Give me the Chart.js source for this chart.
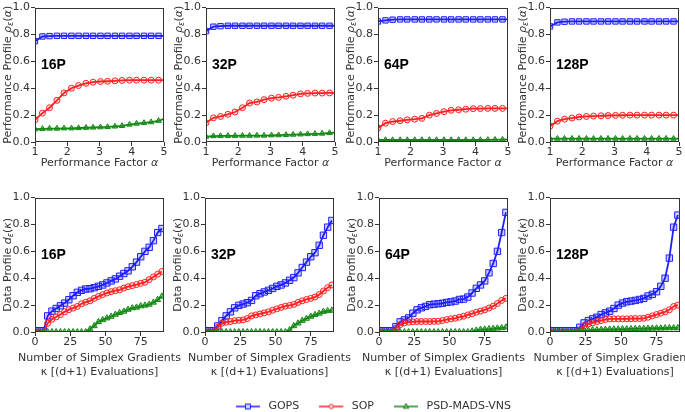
<!DOCTYPE html>
<html>
<head>
<meta charset="utf-8">
<script src="https://cdn.jsdelivr.net/npm/chart.js@4"></script>
<style>
  html, body { margin: 0; padding: 0; background: #fff; overflow: hidden; }
  #wrap { position: relative; width: 685px; height: 412px; overflow: hidden; }
  #wrap canvas { position: absolute; }
</style>
</head>
<body>
<div id="wrap"></div>
<script>
// Eixo x das curvas de desempenho (fator alpha)
const alpha = [1.0, 1.23, 1.45, 1.68, 1.9, 2.13, 2.35, 2.58, 2.8, 3.03, 3.25, 3.48, 3.7, 3.93, 4.15, 4.38, 4.6, 4.83, 5.0];

// Eixo x dos perfis de dados (gradientes simplex)
const kappa = [0, 3, 6, 9, 12, 15, 18, 21, 24, 27, 30, 33, 36, 39, 42, 45, 48, 51, 54, 57, 60, 63, 66, 69, 72, 75, 78, 81, 84, 87, 90];

const seriesNames = ["GOPS", "SOP", "PSD-MADS-VNS"];
const panelLabels = ["16P", "32P", "64P", "128P"];
const alphaTicks = [1, 2, 3, 4, 5];
const kappaTicks = [0, 25, 50, 75];
const profileTicks = [0, 0.2, 0.4, 0.6, 0.8, 1.0];

// Perfis de desempenho
const perfGops16 = [0.75, 0.785, 0.788, 0.79, 0.79, 0.79, 0.79, 0.79, 0.79, 0.79, 0.79, 0.79, 0.79, 0.79, 0.79, 0.79, 0.79, 0.79, 0.79];
const perfSop16 = [0.165, 0.215, 0.255, 0.31, 0.365, 0.4, 0.42, 0.437, 0.445, 0.45, 0.452, 0.455, 0.458, 0.46, 0.46, 0.46, 0.46, 0.46, 0.46];
const perfPsd16 = [0.095, 0.098, 0.1, 0.1, 0.102, 0.102, 0.104, 0.106, 0.108, 0.11, 0.112, 0.116, 0.12, 0.13, 0.137, 0.142, 0.148, 0.158, 0.172];

const perfGops32 = [0.825, 0.858, 0.862, 0.865, 0.865, 0.865, 0.865, 0.865, 0.865, 0.865, 0.865, 0.865, 0.865, 0.865, 0.865, 0.865, 0.865, 0.865, 0.865];
const perfSop32 = [0.143, 0.18, 0.19, 0.206, 0.223, 0.255, 0.29, 0.298, 0.315, 0.326, 0.332, 0.34, 0.348, 0.358, 0.362, 0.364, 0.364, 0.365, 0.366];
const perfPsd32 = [0.04, 0.044, 0.045, 0.046, 0.046, 0.047, 0.047, 0.048, 0.048, 0.05, 0.051, 0.053, 0.055, 0.057, 0.059, 0.061, 0.063, 0.067, 0.07];

const perfGops64 = [0.897, 0.905, 0.91, 0.912, 0.912, 0.912, 0.912, 0.912, 0.912, 0.912, 0.912, 0.912, 0.912, 0.912, 0.912, 0.912, 0.912, 0.912, 0.912];
const perfSop64 = [0.105, 0.14, 0.152, 0.158, 0.165, 0.17, 0.176, 0.2, 0.213, 0.226, 0.236, 0.24, 0.244, 0.248, 0.249, 0.25, 0.25, 0.25, 0.25];
const perfPsd64 = [0.015, 0.015, 0.015, 0.015, 0.015, 0.015, 0.015, 0.015, 0.015, 0.015, 0.015, 0.015, 0.015, 0.015, 0.015, 0.016, 0.017, 0.018, 0.02];

const perfGops128 = [0.86, 0.89, 0.895, 0.897, 0.897, 0.897, 0.897, 0.897, 0.897, 0.897, 0.897, 0.897, 0.897, 0.897, 0.897, 0.897, 0.897, 0.897, 0.897];
const perfSop128 = [0.118, 0.155, 0.17, 0.178, 0.186, 0.19, 0.193, 0.195, 0.197, 0.198, 0.199, 0.2, 0.2, 0.2, 0.2, 0.2, 0.2, 0.2, 0.2];
const perfPsd128 = [0.025, 0.025, 0.025, 0.025, 0.025, 0.025, 0.025, 0.025, 0.025, 0.025, 0.025, 0.025, 0.025, 0.025, 0.025, 0.025, 0.025, 0.025, 0.025];

// Perfis de dados
const dataGops16 = [0.01, 0.01, 0.01, 0.12, 0.155, 0.175, 0.195, 0.215, 0.24, 0.27, 0.295, 0.31, 0.32, 0.322, 0.33, 0.34, 0.35, 0.365, 0.38, 0.395, 0.415, 0.435, 0.455, 0.485, 0.52, 0.56, 0.6, 0.63, 0.68, 0.74, 0.77];
const dataSop16 = [0, 0, 0, 0.065, 0.095, 0.112, 0.13, 0.15, 0.166, 0.178, 0.19, 0.21, 0.222, 0.232, 0.25, 0.265, 0.278, 0.29, 0.3, 0.307, 0.314, 0.327, 0.337, 0.345, 0.353, 0.362, 0.37, 0.39, 0.41, 0.43, 0.45];
const dataPsd16 = [0, 0, 0, 0, 0, 0, 0, 0, 0, 0, 0, 0, 0, 0.02, 0.045, 0.075, 0.09, 0.103, 0.115, 0.13, 0.143, 0.153, 0.167, 0.178, 0.183, 0.193, 0.198, 0.205, 0.22, 0.24, 0.265];

const dataGops32 = [0.01, 0.01, 0.01, 0.045, 0.085, 0.12, 0.15, 0.18, 0.198, 0.208, 0.218, 0.235, 0.27, 0.285, 0.298, 0.31, 0.324, 0.34, 0.35, 0.365, 0.385, 0.405, 0.44, 0.48, 0.52, 0.56, 0.59, 0.645, 0.72, 0.78, 0.83];
const dataSop32 = [0, 0, 0, 0.035, 0.065, 0.073, 0.078, 0.084, 0.087, 0.09, 0.1, 0.12, 0.127, 0.134, 0.142, 0.15, 0.162, 0.172, 0.183, 0.192, 0.198, 0.205, 0.22, 0.232, 0.242, 0.25, 0.26, 0.278, 0.305, 0.33, 0.35];
const dataPsd32 = [0, 0, 0, 0, 0, 0, 0, 0, 0, 0, 0, 0, 0, 0, 0, 0, 0, 0, 0, 0, 0.015, 0.045, 0.065, 0.085, 0.1, 0.115, 0.128, 0.138, 0.152, 0.157, 0.16];

const dataGops64 = [0.01, 0.01, 0.01, 0.01, 0.04, 0.075, 0.09, 0.105, 0.14, 0.165, 0.18, 0.19, 0.203, 0.207, 0.21, 0.214, 0.22, 0.224, 0.23, 0.242, 0.245, 0.26, 0.29, 0.325, 0.35, 0.38, 0.44, 0.51, 0.6, 0.74, 0.89];
const dataSop64 = [0, 0, 0, 0, 0.03, 0.055, 0.068, 0.073, 0.076, 0.078, 0.078, 0.078, 0.078, 0.079, 0.08, 0.085, 0.092, 0.098, 0.102, 0.11, 0.117, 0.127, 0.136, 0.147, 0.156, 0.165, 0.178, 0.192, 0.212, 0.235, 0.25];
const dataPsd64 = [0, 0, 0, 0, 0, 0, 0, 0, 0, 0, 0, 0, 0, 0, 0, 0, 0, 0, 0, 0, 0, 0, 0.005, 0.012, 0.018, 0.02, 0.022, 0.025, 0.028, 0.03, 0.035];

const dataGops128 = [0.01, 0.01, 0.01, 0.01, 0.01, 0.01, 0.01, 0.035, 0.068, 0.085, 0.098, 0.11, 0.13, 0.142, 0.155, 0.175, 0.2, 0.215, 0.225, 0.23, 0.235, 0.242, 0.25, 0.268, 0.28, 0.3, 0.34, 0.4, 0.55, 0.78, 0.87];
const dataSop128 = [0, 0, 0, 0, 0, 0, 0, 0.015, 0.045, 0.06, 0.068, 0.078, 0.085, 0.093, 0.097, 0.098, 0.098, 0.098, 0.098, 0.099, 0.1, 0.1, 0.102, 0.11, 0.12, 0.13, 0.14, 0.15, 0.165, 0.19, 0.2];
const dataPsd128 = [0, 0, 0, 0, 0, 0, 0, 0.005, 0.01, 0.012, 0.015, 0.015, 0.017, 0.018, 0.02, 0.02, 0.02, 0.022, 0.022, 0.023, 0.024, 0.025, 0.025, 0.026, 0.027, 0.028, 0.028, 0.029, 0.03, 0.03, 0.03];

// Estilos
const FONT = "'DejaVu Sans', sans-serif";
const TEXT = "#333";
const colors = ["#1e1eff", "#ff2222", "#138a13"];
const fills = ["rgba(30,30,255,0.22)", "rgba(255,34,34,0.12)", "rgba(19,138,19,0.55)"];
const markers = ["rect", "circle", "triangle"];

// Layout dos 8 paineis (posicao da area de plotagem)
const panels = [
    { row: 0, left: 35, width: 129, label: 0, series: [perfGops16, perfSop16, perfPsd16] },
    { row: 0, left: 206, width: 129, label: 1, series: [perfGops32, perfSop32, perfPsd32] },
    { row: 0, left: 378, width: 130, label: 2, series: [perfGops64, perfSop64, perfPsd64] },
    { row: 0, left: 550, width: 129, label: 3, series: [perfGops128, perfSop128, perfPsd128] },
    { row: 1, left: 35, width: 129, label: 0, series: [dataGops16, dataSop16, dataPsd16] },
    { row: 1, left: 205, width: 129, label: 1, series: [dataGops32, dataSop32, dataPsd32] },
    { row: 1, left: 379, width: 129, label: 2, series: [dataGops64, dataSop64, dataPsd64] },
    { row: 1, left: 550, width: 130, label: 3, series: [dataGops128, dataSop128, dataPsd128] },
];

// texto com partes em italico / subscrito
function drawParts(ctx, parts, cx, cy) {
    let total = 0;
    parts.forEach((p) => {
        ctx.font = (p.it ? "italic " : "") + (p.sub ? 8 : 11) + "px " + FONT;
        p.w = ctx.measureText(p.t).width;
        total += p.w;
    });
    let x = cx - total / 2;
    parts.forEach((p) => {
        ctx.font = (p.it ? "italic " : "") + (p.sub ? 8 : 11) + "px " + FONT;
        ctx.fillText(p.t, x, cy + (p.sub ? 3 : 0));
        x += p.w;
    });
}

const perfTitle = [
    { t: "Performance Profile " }, { t: "ρ", it: true }, { t: "ε", it: true, sub: true },
    { t: "(" }, { t: "α", it: true }, { t: ")" },
];
const dataTitle = [
    { t: "Data Profile " }, { t: "d", it: true }, { t: "ε", it: true, sub: true },
    { t: "(" }, { t: "κ", it: true }, { t: ")" },
];
const perfXTitle = [{ t: "Performance Factor " }, { t: "α", it: true }];
const dataXTitle1 = [{ t: "Number of Simplex Gradients" }];
const dataXTitle2 = [{ t: "κ [(d+1) Evaluations]" }];

// desenha um marcador no estilo da serie
function marker(ctx, i, x, y, r) {
    ctx.beginPath();
    if (i === 0) {
        ctx.rect(x - r, y - r, 2 * r, 2 * r);
    } else if (i === 1) {
        ctx.arc(x, y, r, 0, Math.PI * 2);
    } else {
        ctx.moveTo(x, y - r);
        ctx.lineTo(x + r * 0.9, y + r * 0.6);
        ctx.lineTo(x - r * 0.9, y + r * 0.6);
        ctx.closePath();
    }
    ctx.fillStyle = "#fff";
    ctx.fill();
    ctx.fillStyle = fills[i];
    ctx.fill();
    ctx.strokeStyle = colors[i];
    ctx.lineWidth = 1;
    ctx.stroke();
}

function makePanel(p) {
    const top = p.row === 0;
    const yAxisW = 35, padTop = 5, padRight = 22, plotH = 137;
    const xAxisH = top ? 28 : 47;
    const canvas = document.createElement("canvas");
    canvas.width = yAxisW + p.width + padRight;
    canvas.height = padTop + plotH + xAxisH;
    canvas.style.left = (p.left - yAxisW) + "px";
    canvas.style.top = (top ? 0 : 190) + "px";
    document.getElementById("wrap").appendChild(canvas);

    const xs = top ? alpha : kappa;
    const datasets = p.series.map((vals, i) => ({
        label: seriesNames[i],
        data: vals.map((v, j) => ({ x: xs[j], y: v })),
        borderColor: colors[i],
        borderWidth: 1.8,
        backgroundColor: fills[i],
        pointStyle: markers[i],
        pointBorderColor: colors[i],
        pointBackgroundColor: fills[i],
        pointBorderWidth: 1,
        pointRadius: top
            ? (ctx) => (xs[ctx.dataIndex] === 5 ? 0 : [3.8, 3, 3.2][i])
            : [4.5, 3, 3.5][i],
        tension: 0,
        fill: false,
        order: 3 - i,
    }));

    const framePlugin = {
        id: "frame" + p.row + p.label,
        afterDraw(chart) {
            const { ctx, chartArea: a } = chart;
            ctx.save();
            ctx.strokeStyle = TEXT;
            ctx.lineWidth = 1;
            ctx.strokeRect(Math.round(a.left) + 0.5, Math.round(a.top) + 0.5, Math.round(a.right - a.left) - 1, Math.round(a.bottom - a.top) - 1);
            // rotulo do painel
            ctx.font = "bold 14px 'Liberation Sans', Arial, sans-serif";
            ctx.fillStyle = "#000";
            ctx.textBaseline = "middle";
            ctx.fillText(panelLabels[p.label], a.left + 6, a.top + 58);
            // titulos dos eixos
            ctx.fillStyle = TEXT;
            const cx = (a.left + a.right) / 2;
            if (top) {
                drawParts(ctx, perfXTitle, cx, a.bottom + 21);
            } else {
                drawParts(ctx, dataXTitle1, cx, a.bottom + 26);
                drawParts(ctx, dataXTitle2, cx, a.bottom + 40);
            }
            ctx.translate(8, (a.top + a.bottom) / 2);
            ctx.rotate(-Math.PI / 2);
            drawParts(ctx, top ? perfTitle : dataTitle, 0, 0);
            ctx.restore();
        },
    };

    new Chart(canvas.getContext("2d"), {
        type: "line",
        data: { datasets },
        options: {
            responsive: false,
            animation: false,
            events: [],
            layout: { padding: { top: padTop, right: padRight, left: 0, bottom: 0 } },
            plugins: { legend: { display: false }, tooltip: { enabled: false } },
            scales: {
                x: {
                    type: "linear",
                    min: top ? 1 : 0,
                    max: top ? 5 : 91.5,
                    afterBuildTicks: (s) => { s.ticks = (top ? alphaTicks : kappaTicks).map((v) => ({ value: v })); },
                    afterFit: (s) => { s.height = xAxisH; },
                    grid: { drawOnChartArea: false, tickLength: 4, color: TEXT },
                    border: { display: false },
                    ticks: { padding: 0, color: TEXT, font: { family: FONT, size: 11 }, maxRotation: 0, autoSkip: false },
                },
                y: {
                    min: 0,
                    max: 1,
                    afterBuildTicks: (s) => { s.ticks = profileTicks.map((v) => ({ value: v })); },
                    afterFit: (s) => { s.width = yAxisW; },
                    grid: { drawOnChartArea: false, tickLength: 4, color: TEXT },
                    border: { display: false },
                    ticks: { padding: 1, color: TEXT, font: { family: FONT, size: 11 }, callback: (v) => v.toFixed(1) },
                },
            },
        },
        plugins: [framePlugin],
    });
}

// icones da legenda: linha + marcador
function legendIcon(i) {
    const c = document.createElement("canvas");
    c.width = 27;
    c.height = 10;
    const ctx = c.getContext("2d");
    ctx.strokeStyle = colors[i];
    ctx.lineWidth = 1.5;
    ctx.beginPath();
    ctx.moveTo(0, 5);
    ctx.lineTo(24, 5);
    ctx.stroke();
    marker(ctx, i, 12, 5, [2.5, 2.2, 3][i]);
    return c;
}

document.addEventListener("DOMContentLoaded", () => {
    panels.forEach(makePanel);

    // legenda em baixo
    const canvas = document.createElement("canvas");
    canvas.width = 685;
    canvas.height = 80;
    canvas.style.left = "31px";
    canvas.style.top = "381px";
    document.getElementById("wrap").appendChild(canvas);
    const icons = [0, 1, 2].map(legendIcon);

    new Chart(canvas.getContext("2d"), {
        type: "line",
        data: { datasets: seriesNames.map((n) => ({ label: n, data: [] })) },
        options: {
            responsive: false,
            animation: false,
            events: [],
            layout: { padding: 0 },
            scales: { x: { display: false }, y: { display: false } },
            plugins: {
                tooltip: { enabled: false },
                legend: {
                    display: true,
                    position: "top",
                    labels: {
                        usePointStyle: true,
                        pointStyleWidth: 27,
                        padding: 20,
                        color: TEXT,
                        font: { family: FONT, size: 11 },
                        generateLabels: (chart) => chart.data.datasets.map((ds, i) => ({
                            text: ds.label,
                            pointStyle: icons[i],
                            fontColor: TEXT,
                            hidden: false,
                            datasetIndex: i,
                            lineWidth: 0,
                        })),
                    },
                },
            },
        },
    });
});
</script>
</body>
</html>
